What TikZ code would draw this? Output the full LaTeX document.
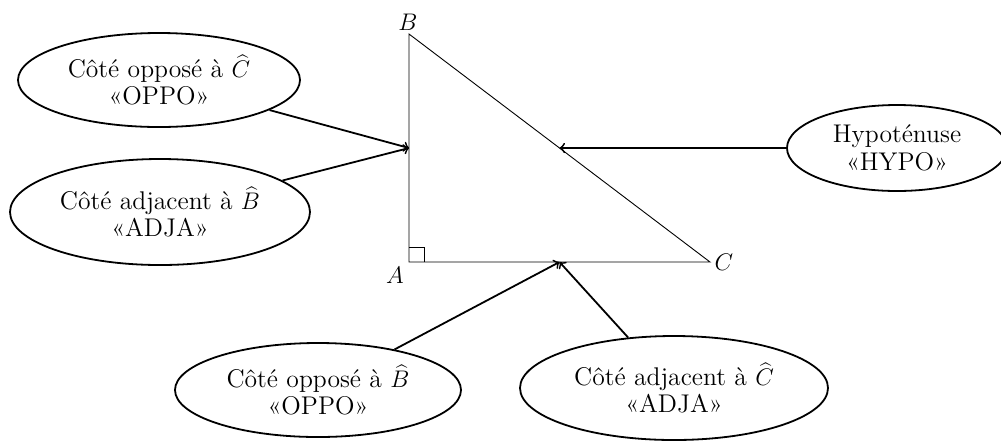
\documentclass[tikz,border=0pt]{standalone}
\usetikzlibrary{shapes.geometric,calc}
\begin{document}
\begin{tikzpicture}[x=0.5pt,y=-0.5pt,
  bubble/.style={draw, ellipse, line width=0.9pt, inner sep=0pt, align=center,
                 font=\fontsize{12.8}{13.8}\selectfont},
  link/.style={->, line width=0.9pt},
  side/.style={line width=0.45pt},
  vlabel/.style={inner sep=0pt, font=\fontsize{12.8}{13.8}\selectfont}]
\useasboundingbox (0,0) rectangle (1001,441);
% triangle
\coordinate (A) at (409,262);
\coordinate (B) at (409,34);
\coordinate (C) at (710,262);
\draw[side] (A) -- (B) -- (C) -- cycle;
\draw[side] ([yshift=7.5pt]A) -| ([xshift=7.5pt]A);
\coordinate (mAB) at ($(A)!0.5!(B)$);
\coordinate (mBC) at ($(B)!0.5!(C)$);
\coordinate (mAC) at ($(A)!0.5!(C)$);
\node[vlabel] (lB) at (408,22) {$B$};
\node[vlabel] (lA) at (395,275) {$A$};
\node[vlabel] (lC) at (724,262) {$C$};
% bubbles
\node[bubble, minimum width=141pt, minimum height=47pt] (e1) at (159,80)
  {Côté opposé à $\widehat{C}$\\«OPPO»};
\node[bubble, minimum width=150pt, minimum height=53pt] (e2) at (160,212)
  {Côté adjacent à $\widehat{B}$\\«ADJA»};
\node[bubble, minimum width=110pt, minimum height=43pt] (eH) at (897,148)
  {Hypoténuse\\«HYPO»};
\node[bubble, minimum width=143pt, minimum height=47pt] (e3) at (318,390)
  {Côté opposé à $\widehat{B}$\\«OPPO»};
\node[bubble, minimum width=154pt, minimum height=52pt] (e4) at (674,388)
  {Côté adjacent à $\widehat{C}$\\«ADJA»};
% connectors
\draw[link] (e1) -- (mAB);
\draw[link] (e2) -- (mAB);
\draw[link] (eH) -- (mBC);
\draw[link] (e3) -- (mAC);
\draw[link] (e4) -- (mAC);
\end{tikzpicture}
\end{document}
